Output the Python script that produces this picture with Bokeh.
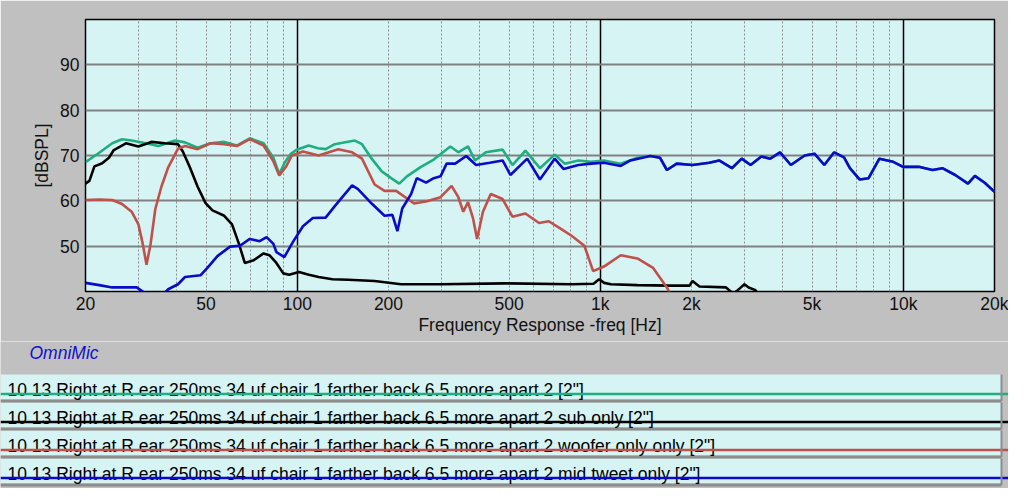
from bokeh.plotting import figure
from bokeh.models import Range1d, FixedTicker, ColumnDataSource
from bokeh.layouts import column
from bokeh.embed import file_html
from bokeh.resources import INLINE
from bokeh.core.properties import value

# ---------------- data ----------------
total_hz = [20, 22.2, 24.5, 26.4, 28.4, 31.6, 34.8, 39.5, 42.6, 46.9, 51.7, 57.4, 63.2, 69.7, 77.4,
            83.4, 87.2, 91, 95, 99.1, 109, 117, 124, 133, 141, 155, 163.5, 176, 190, 204, 217, 230,
            256, 282, 320, 340, 366, 386, 419, 476, 513, 566, 632, 707, 763, 847, 933, 1028, 1168,
            1326, 1461, 1575, 1659, 1788, 2015, 2289, 2467, 2718, 2929, 3133, 3401, 3638, 3921, 4255,
            4725, 5091, 5487, 5913, 6373, 6665, 7183, 7682, 8340, 9262, 9983, 11247, 12490, 13460,
            14836, 16350, 17231, 18564, 20000]
total_db = [68.5, 70.6, 72.7, 73.6, 73.3, 72.7, 72.1, 73.3, 72.9, 71.7, 72.7, 73.0, 72.2, 73.8, 72.7,
            69.5, 65.9, 68.5, 70.3, 71.2, 72.2, 71.6, 71.4, 72.5, 72.8, 73.3, 72.5, 69.3, 66.5, 65.0,
            63.8, 65.4, 67.5, 69.1, 72.0, 70.7, 72.0, 68.9, 70.7, 71.3, 67.9, 71.1, 67.2, 70.2, 68.2,
            68.9, 68.6, 68.9, 68.2, 69.5, 69.9, 69.5, 66.8, 68.2, 67.9, 68.4, 68.9, 67.2, 69.3, 67.9,
            69.8, 69.3, 70.7, 67.9, 70.0, 70.4, 67.9, 70.7, 69.6, 67.2, 64.7, 65.0, 69.3, 68.6, 67.5,
            67.5, 66.8, 67.2, 65.7, 63.8, 65.5, 64.0, 62.0]

sub_hz = [20, 20.6, 21.4, 22.7, 23.9, 24.8, 27.2, 29.9, 33.0, 36.6, 40.4, 41.9, 44.2, 46.9, 49.8,
          52.5, 57.4, 60.9, 64.2, 67.1, 71.8, 77.4, 80.9, 85.3, 89.9, 94, 101.3, 109.2, 117.6, 130.6,
          147, 180, 220, 297, 487, 804, 950, 991, 1030, 1084, 1326, 1697, 1971, 2015, 2124, 2599,
          2750, 2900, 2990, 3087, 3252, 3350]
sub_db = [63.8, 64.4, 67.6, 68.3, 69.5, 71.2, 72.7, 72.0, 73.0, 72.7, 72.5, 70.9, 67.4, 63.1, 59.5,
          57.9, 56.7, 54.8, 50.5, 46.3, 46.9, 48.4, 48.0, 46.3, 44.0, 43.7, 44.3, 43.7, 43.2, 42.7,
          42.6, 42.3, 41.6, 41.6, 41.8, 41.6, 41.7, 42.7, 41.9, 41.6, 41.4, 41.3, 41.3, 42.3, 41.1, 40.9,
          39.5, 40.8, 41.6, 40.9, 40.3, 39.0]

woofer_hz = [20, 22.2, 24.5, 26.4, 28.4, 29.9, 30.9, 31.8, 32.8, 34.0, 35.6, 37.5, 40.4, 42.6, 46.9,
             51.7, 57.4, 63.2, 69.7, 77.4, 83.4, 87.2, 91.9, 96, 104.4, 117.6, 136.6, 151.7, 163.5,
             180, 194, 212, 243, 268, 297, 323, 340, 353, 366, 380, 392, 410, 435, 476, 513, 566,
             628, 676, 746, 804, 886, 947, 1028, 1168, 1326, 1494, 1659, 1700]
woofer_db = [60.2, 60.3, 60.2, 59.3, 57.6, 54.8, 50.5, 45.9, 50.5, 58.2, 63.1, 67.4, 71.5, 72.1, 71.4,
             72.7, 72.5, 72.1, 73.6, 72.2, 68.7, 65.6, 67.6, 70.0, 70.9, 70.0, 71.4, 70.7, 69.3,
             63.6, 62.2, 62.2, 59.4, 59.9, 60.8, 63.3, 60.8, 57.6, 59.7, 56.2, 51.6, 57.6, 61.5, 60.4,
             56.5, 57.2, 55.1, 55.5, 53.7, 52.3, 50.1, 44.5, 45.5, 48.0, 47.3, 45.2, 40.9, 39.5]

mid_hz = [20, 22.2, 24.5, 29.5, 32, 36, 37.5, 40.4, 42.6, 48, 50.5, 54.5, 60, 64.7, 69.7, 75.1, 79.2,
          83.4, 85.3, 90.6, 96.9, 104.4, 112.5, 124, 133.6, 151.7, 158.6, 176, 194, 206, 214, 222,
          237.5, 248, 266, 282, 297, 311, 332, 361, 389, 432, 476, 505, 574, 632, 707, 757, 847,
          933, 1028, 1168, 1258, 1461, 1575, 1659, 1788, 2015, 2289, 2467, 2718, 2929, 3133, 3401,
          3638, 3921, 4255, 4725, 5091, 5487, 5913, 6373, 6665, 7183, 7682, 8340, 9262, 9983,
          11247, 12490, 13460, 14836, 16350, 17231, 18564, 20000]
mid_db = [41.9, 41.4, 40.9, 40.9, 39.3, 39.3, 40.5, 41.6, 43.2, 43.6, 45.2, 47.8, 49.9, 50.1, 51.6,
          51.1, 52.0, 50.5, 48.7, 47.6, 51.0, 54.4, 56.2, 56.3, 59.0, 63.4, 62.6, 59.4, 56.7, 56.9,
          53.3, 58.3, 61.5, 65.0, 64.0, 65.0, 65.4, 68.2, 68.2, 69.9, 67.9, 68.4, 68.9, 65.7, 69.3,
          64.7, 69.3, 67.0, 67.9, 68.2, 68.4, 67.7, 68.9, 69.9, 69.5, 66.8, 68.2, 67.9, 68.4, 68.9,
          67.2, 69.3, 67.9, 69.8, 69.3, 70.7, 67.9, 70.0, 70.4, 67.9, 70.7, 69.6, 67.2, 64.7, 65.0,
          69.3, 68.6, 67.5, 67.5, 66.8, 67.2, 65.7, 63.8, 65.5, 64.0, 62.0]

series_names = [
    '10 13 Right at R ear  250ms 34 uf chair 1 farther back 6.5 more apart 2 [2"]',
    '10 13 Right at R ear  250ms 34 uf chair 1 farther back 6.5 more apart 2 sub only [2"]',
    '10 13 Right at R ear  250ms 34 uf chair 1 farther back 6.5 more apart 2 woofer only only [2"]',
    '10 13 Right at R ear  250ms 34 uf chair 1 farther back 6.5 more apart 2 mid tweet  only [2"]',
]
series_colors = ["#1fae80", "#000000", "#c0504a", "#0a0ac8"]
brand = "OmniMic"

x_ticks = [20, 50, 100, 200, 500, 1000, 2000, 5000, 10000, 20000]
x_tick_labels = ["20", "50", "100", "200", "500", "1k", "2k", "5k", "10k", "20k"]
y_ticks = [50, 60, 70, 80, 90]
decade_lines = [100, 1000, 10000]
minor_lines = [30, 40, 50, 60, 70, 80, 90, 200, 300, 400, 500, 600, 700, 800, 900,
               2000, 3000, 4000, 5000, 6000, 7000, 8000, 9000]

FONT = "Liberation Sans"
PANEL = "#c0c0c0"
CYAN = "#d6f4f4"
W = 1008

# ---------------- main chart ----------------
p = figure(x_axis_type="log", x_range=Range1d(20, 20000), y_range=Range1d(40, 100),
           frame_width=909, frame_height=272, output_backend="svg", toolbar_location=None,
           min_border_left=85, min_border_right=14, min_border_top=19, min_border_bottom=50)
p.border_fill_color = PANEL
p.background_fill_color = CYAN
p.outline_line_color = "black"
p.outline_line_width = 1.5

p.xaxis.ticker = FixedTicker(ticks=x_ticks)
p.xaxis.major_label_overrides = {t: l for t, l in zip(x_ticks, x_tick_labels)}
p.yaxis.ticker = FixedTicker(ticks=y_ticks)
for ax in (p.xaxis[0], p.yaxis[0]):
    ax.axis_line_color = None
    ax.major_tick_line_color = None
    ax.minor_tick_line_color = None
    ax.major_label_text_font = FONT
    ax.major_label_text_font_size = "17.5px"
    ax.major_label_text_color = "#111111"
    ax.axis_label_text_font = FONT
    ax.axis_label_text_font_size = "17.5px"
    ax.axis_label_text_font_style = "normal"
    ax.axis_label_text_color = "#111111"
p.xaxis.axis_label = "Frequency Response -freq [Hz]"
p.yaxis.axis_label = "[dBSPL]"
p.xaxis.major_label_standoff = -4
p.xaxis.axis_label_standoff = -2
p.yaxis.major_label_standoff = 0
p.yaxis.axis_label_standoff = 5

p.ygrid.ticker = FixedTicker(ticks=y_ticks)
p.ygrid.grid_line_color = "#808080"
p.ygrid.grid_line_width = 2
p.xgrid.ticker = FixedTicker(ticks=decade_lines, minor_ticks=minor_lines)
p.xgrid.grid_line_color = "black"
p.xgrid.grid_line_width = 1.5
p.xgrid.minor_grid_line_color = "#8a8a8a"
p.xgrid.minor_grid_line_dash = "2 2"
p.xgrid.minor_grid_line_width = 1

for hz, db, col in zip([total_hz, sub_hz, woofer_hz, mid_hz],
                       [total_db, sub_db, woofer_db, mid_db], series_colors):
    p.line(hz, db, line_color=col, line_width=2.6)

# ---------------- legend panel (its own figure, y measured in px from its top) ----------------
n = len(series_names)
LG_H = 147
BAND = 32      # grey strip above the rows, carrying the brand label
ROW = 28
lg = figure(width=W, height=LG_H, x_range=Range1d(0, W), y_range=Range1d(LG_H, 0),
            output_backend="svg", toolbar_location=None,
            min_border_left=0, min_border_right=0, min_border_top=0, min_border_bottom=0)
lg.axis.visible = False
lg.grid.visible = False
lg.outline_line_color = None
lg.border_fill_color = PANEL
lg.background_fill_color = PANEL

lg.text(x=[29], y=[11.5], text=[brand], text_font=value(FONT), text_font_size="17.5px",
        text_font_style="italic", text_color="#1010d0", text_baseline="alphabetic")

tops = [BAND + ROW * r for r in range(n)]
src = ColumnDataSource(dict(
    top=[t + 1 for t in tops], bottom=[t + 26 for t in tops],
    sep=[t + 27.5 for t in tops], line_y=[t + 20.5 for t in tops],
    text_y=[t + 16.5 for t in tops], name=series_names, color=series_colors,
    x0=[0] * n, x1=[W] * n, xt=[7] * n, xr=[1001] * n))
lg.quad(left="x0", right="xr", top="top", bottom="bottom", source=src,
        fill_color=CYAN, line_color=None)
lg.segment(x0="x0", x1="xr", y0="sep", y1="sep", source=src, line_color="#8c8c8c", line_width=3)
lg.text(x="xt", y="text_y", text="name", source=src, text_font=value(FONT),
        text_font_size="17.5px", text_color="black", text_baseline="alphabetic")
lg.segment(x0="x0", x1="x1", y0="line_y", y1="line_y", source=src, line_color="color",
           line_width=2.6)
lg.segment(x0="xr", x1="xr", y0="top", y1="sep", source=src, line_color="#8c8c8c", line_width=2)

layout = column(p, column(lg, spacing=0), spacing=0)
open("out.html", "w").write(file_html(layout, INLINE))
